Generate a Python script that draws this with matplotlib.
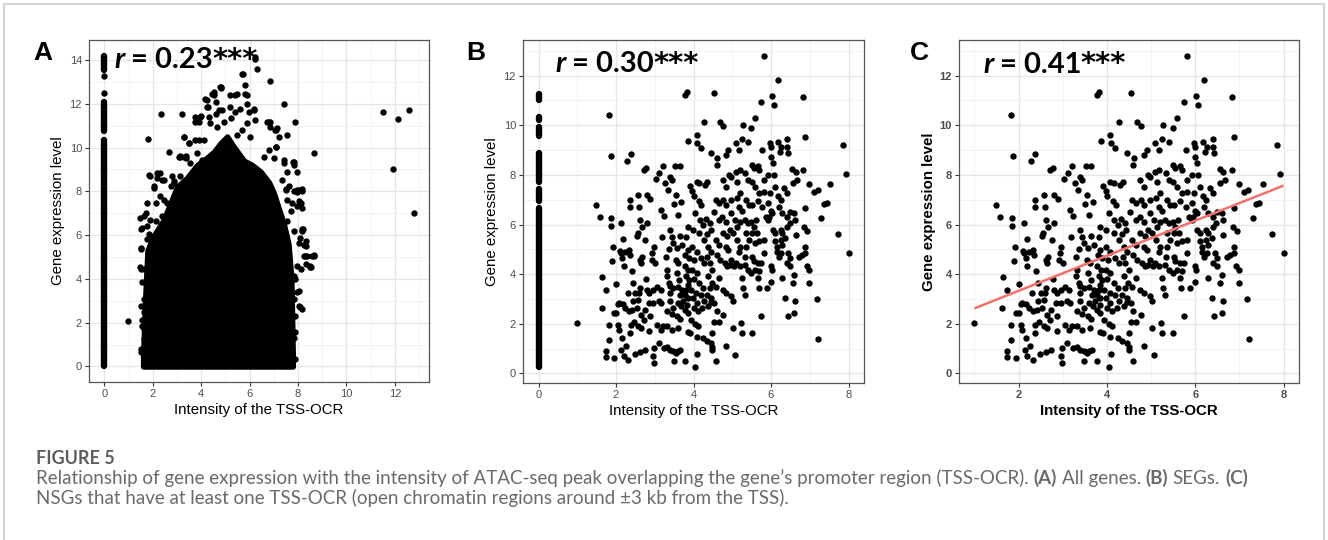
"""
Gene expression vs TSS-OCR intensity, three scatter panels (A, B, C) plus caption.
"""

# Imports - standard
import numpy as np
import matplotlib
matplotlib.use("Agg")
import matplotlib.pyplot as plt
from matplotlib.ticker import MultipleLocator
from matplotlib.patches import Rectangle

# settings - figure
W, H = 1328, 540
AXIS_FONT = "Liberation Sans"
R_FONT = "Lato"
CAPTION_FONT = "Lato"

# Panel A data ===================================================================
# genes without a TSS-OCR sit on x = 0; the column is continuous over these runs
a_zero_runs = [(0.0, 10.35), (10.75, 12.1), (13.55, 14.2)]
a_zero_pts = [12.5, 13.25]

# the dense cloud of genes with a TSS-OCR: upper edge of the solid black area
a_cloud_x = [1.6, 1.68, 1.78, 2.0, 2.45, 3.0, 3.4, 3.83, 4.2, 4.52, 4.8,
             5.07, 5.3, 5.76, 6.1, 6.45, 6.8, 7.0, 7.41, 7.6, 7.72, 7.78]
a_cloud_top = [0.5, 3.0, 5.3, 5.9, 6.7, 8.2, 8.6, 9.2, 9.5, 9.8, 10.2,
               10.5, 10.1, 9.4, 9.2, 8.9, 8.4, 7.9, 6.5, 5.6, 4.0, 0.4]

# points scattered around the cloud
a_points = [
    (0.98, 2.06), (1.46, 6.79), (1.55, 6.32), (1.49, 5.38), (1.46, 4.52),
    (1.55, 2.13), (1.6, 0.64), (1.65, 0.41), (1.79, 10.4), (1.86, 8.75),
    (2.04, 8.15), (2.17, 8.6), (2.31, 8.83), (1.76, 7.47), (1.73, 7.02),
    (1.83, 6.03), (1.76, 3.54), (1.65, 3.08), (2.34, 11.55), (2.66, 9.78),
    (2.86, 8.45), (3.14, 9.59), (3.38, 9.59), (3.21, 11.55), (3.28, 10.49),
    (3.48, 10.19), (3.76, 11.17), (3.96, 11.4), (3.89, 10.34), (4.17, 12.23),
    (4.27, 11.85), (4.51, 12.53), (4.82, 12.73), (4.62, 11.55), (5.2, 12.38),
    (5.41, 12.38), (5.72, 13.37), (5.82, 12.84), (5.89, 12.38), (6.23, 14.15),
    (6.3, 13.59), (6.16, 11.78), (6.85, 13.06), (6.83, 11.17), (7.06, 10.8),
    (7.4, 12.0), (7.54, 10.57), (7.89, 11.16), (7.1, 10.04), (7.4, 9.43),
    (7.79, 9.36), (7.95, 8.9), (7.51, 8.07), (7.54, 7.62), (7.74, 7.47),
    (7.95, 8.07), (8.16, 8.1), (8.02, 7.54), (8.16, 7.24), (8.2, 6.26),
    (8.09, 5.88), (8.26, 5.53), (8.3, 5.05), (8.34, 4.67), (8.53, 4.55),
    (8.64, 5.08), (8.67, 9.74), (8.02, 3.46), (8.09, 2.71), (7.82, 1.3),
    (7.89, 0.36), (7.29, 0.36), (7.57, 2.21), (7.54, 1.8), (7.82, 4.14),
    (7.82, 3.08), (1.9, 8.68), (2.18, 8.84), (2.38, 8.53), (1.62, 6.86),
    (1.49, 6.26), (2.11, 7.47), (2.45, 7.62), (2.87, 8.38), (1.49, 5.43),
    (1.49, 4.44), (1.62, 2.47), (1.62, 1.72), (1.49, 0.66), (3.07, 9.57),
    (3.28, 9.57), (3.49, 10.19), (3.97, 11.43), (4.25, 12.15), (4.52, 12.38),
    (4.8, 12.76), (4.86, 11.7), (5.2, 11.85), (5.48, 12.46), (5.82, 12.46),
    (5.69, 13.37), (6.24, 14.04), (6.79, 11.18), (7.07, 10.8), (7.82, 9.34),
    (7.48, 8.1), (7.96, 7.95), (8.17, 8.02), (8.17, 6.26), (8.31, 5.73),
    (8.65, 5.05), (8.51, 4.59), (8.38, 5.05), (8.1, 4.44), (7.96, 3.38),
    (8.17, 2.62), (7.89, 1.57), (7.41, 0.8), (6.99, 0.36),
    (4.24, 11.85), (4.45, 12.46), (4.79, 12.76), (4.59, 12.08), (4.72, 11.7),
    (4.31, 11.4), (3.76, 11.4), (3.9, 11.17), (4.38, 11.1), (4.65, 10.95),
    (4.93, 11.17), (5.21, 11.33), (5.41, 11.63), (5.9, 12.0), (5.62, 11.78),
    (5.96, 11.63), (6.17, 11.7), (6.24, 11.25), (5.9, 11.1), (5.69, 10.79),
    (5.48, 10.57), (6.03, 10.49), (6.72, 11.17), (6.86, 10.95), (7.14, 10.87),
    (7.2, 10.49), (7.07, 10.04), (6.79, 9.89), (6.58, 9.58), (7.0, 9.51),
    (7.41, 9.28), (7.82, 9.21), (7.55, 8.9), (7.34, 8.53), (7.62, 8.23),
    (7.82, 8.0), (8.03, 8.07), (8.1, 7.47), (7.96, 7.32), (7.69, 7.09),
    (7.55, 6.64), (7.82, 6.18), (8.17, 6.18), (8.03, 5.65), (8.31, 5.5),
    (8.24, 5.05), (8.58, 5.05), (8.51, 4.52), (7.96, 4.6), (7.89, 3.99),
    (8.03, 2.78), (7.89, 2.32), (7.55, 1.87), (7.69, 1.27), (7.14, 0.51),
    (3.28, 10.49), (3.76, 10.34), (4.1, 10.34), (3.14, 9.58), (3.35, 9.51),
    (3.83, 9.73), (4.04, 9.43), (3.55, 9.28), (2.8, 8.68), (3.14, 8.68),
    (2.45, 8.53), (2.04, 8.23), (2.73, 8.23), (2.31, 7.77), (2.59, 7.47),
    (1.9, 6.71), (1.76, 6.41), (2.11, 6.64), (2.38, 6.86), (2.73, 7.09),
    (1.76, 5.8), (1.62, 4.44), (1.56, 3.84), (1.49, 2.78), (1.56, 1.87),
    (1.62, 1.27), (1.49, 0.81), (1.76, 0.36),
    (11.5, 11.64), (12.12, 11.31), (12.6, 11.7), (11.94, 9.01), (12.77, 7.02),
]

# Panels B / C data ==============================================================
# genes on x = 0 in panel B
b_zero_runs = [(0.24, 6.66), (6.95, 7.45), (7.7, 8.9), (9.55, 9.95),
               (10.2, 10.35), (11.0, 11.25)]

# genes with a TSS-OCR (same cloud in B and C)
ocr_points = [
    (1.0, 2.05), (1.48, 6.8), (1.58, 6.32), (1.65, 3.87), (1.73, 3.38),
    (1.63, 2.64), (1.74, 0.91), (1.74, 0.66), (1.82, 10.4), (1.88, 8.75),
    (1.86, 6.25), (1.86, 5.96), (1.82, 1.93), (1.82, 1.33), (1.92, 5.11),
    (1.89, 4.51), (2.0, 3.62), (1.95, 2.43), (2.0, 2.43), (1.94, 0.62),
    (2.13, 6.08), (2.18, 5.42), (2.1, 4.95), (2.13, 4.85), (2.16, 4.67),
    (2.2, 4.34), (2.23, 4.89), (2.08, 2.83), (2.17, 2.79), (2.05, 1.96),
    (2.08, 1.76), (2.16, 1.42), (2.14, 0.95), (2.2, 0.71), (2.29, 8.56),
    (2.38, 8.86), (2.36, 6.99), (2.36, 6.72), (2.33, 4.98), (2.35, 4.78),
    (2.4, 4.13), (2.31, 3.23), (2.26, 1.09), (2.32, 0.55), (2.36, 1.62),
    (2.38, 1.96), (2.48, 0.79), (2.44, 2.9), (2.5, 3.23), (2.57, 7.19),
    (2.59, 6.7), (2.56, 5.65), (2.53, 5.52), (2.62, 6.19), (2.66, 5.92),
    (2.62, 4.58), (2.65, 4.44), (2.66, 4.71), (2.62, 3.44), (2.6, 3.23),
    (2.57, 2.97), (2.57, 1.89), (2.65, 1.83), (2.63, 0.85), (2.74, 0.95),
    (2.72, 8.2), (2.78, 8.27), (2.81, 7.19), (2.89, 7.02), (2.76, 5.38),
    (2.8, 6.05), (2.78, 3.8), (2.81, 3.37), (2.74, 2.56), (2.86, 3.23),
    (2.87, 2.3), (2.86, 1.69), (2.95, 0.68), (2.99, 0.42), (2.93, 4.85),
    (2.97, 5.11), (2.92, 4.58), (3.01, 4.44), (3.02, 7.83), (3.12, 8.09),
    (3.21, 8.34), (3.17, 6.59), (3.23, 6.35), (3.19, 5.49), (3.06, 3.5),
    (3.15, 3.37), (3.1, 2.9), (3.16, 2.83), (3.06, 1.96), (3.15, 1.76),
    (3.21, 1.89), (3.1, 1.22), (3.23, 1.02), (3.29, 4.71), (3.32, 4.17),
    (3.31, 3.91), (3.27, 7.69), (3.34, 7.4), (3.39, 7.93), (3.44, 7.8),
    (3.4, 5.78), (3.44, 5.49), (3.48, 5.25), (3.36, 5.03), (3.36, 3.66),
    (3.4, 3.53), (3.48, 3.44), (3.39, 3.23), (3.4, 2.9), (3.48, 2.63),
    (3.32, 2.5), (3.44, 2.4), (3.32, 1.89), (3.44, 1.76), (3.39, 0.95),
    (3.48, 0.89), (3.49, 0.48), (3.32, 1.06), (3.53, 8.36), (3.64, 8.34),
    (3.5, 6.84), (3.55, 7.19), (3.59, 6.4), (3.64, 5.52), (3.7, 5.18),
    (3.57, 5.05), (3.61, 4.44), (3.55, 4.58), (3.57, 4.04), (3.63, 3.77),
    (3.59, 3.5), (3.7, 3.37), (3.66, 3.17), (3.59, 2.83), (3.69, 2.7),
    (3.57, 2.3), (3.64, 2.19), (3.61, 1.83), (3.59, 0.89), (3.66, 0.95),
    (3.68, 6.9), (3.78, 0.48), (3.78, 11.22), (3.83, 11.36), (3.87, 9.36),
    (3.85, 5.92), (3.81, 5.49), (3.85, 4.98), (3.79, 4.78), (3.89, 4.64),
    (3.77, 4.31), (3.87, 4.17), (3.81, 3.91), (3.89, 3.77), (3.85, 3.57),
    (3.81, 3.37), (3.78, 3.17), (3.85, 3.03), (3.74, 2.9), (3.84, 2.77),
    (3.78, 2.56), (3.85, 2.43), (3.85, 1.65), (3.91, 1.62), (3.9, 7.57),
    (3.97, 7.37), (4.0, 7.13), (4.08, 7.73), (4.15, 7.66), (4.04, 6.48),
    (3.99, 5.78), (4.08, 9.62), (4.09, 9.3), (4.19, 9.07), (4.04, 0.24),
    (3.97, 5.11), (4.08, 4.91), (4.02, 4.58), (3.97, 4.15), (4.08, 4.04),
    (4.0, 3.8), (3.94, 3.37), (4.06, 3.23), (3.98, 3.03), (4.08, 2.83),
    (4.0, 2.63), (4.12, 2.5), (3.93, 2.16), (4.04, 2.0), (4.08, 1.46),
    (4.09, 0.78), (4.14, 6.93), (4.2, 6.78), (4.17, 6.19), (4.24, 5.99),
    (4.15, 5.65), (4.27, 5.38), (4.19, 4.64), (4.27, 4.44), (4.15, 3.64),
    (4.24, 3.44), (4.19, 3.17), (4.27, 2.9), (4.23, 2.63), (4.12, 1.89),
    (4.24, 1.42), (4.34, 1.29), (4.27, 10.15), (4.3, 7.6), (4.36, 7.73),
    (4.32, 6.21), (4.42, 6.08), (4.34, 5.6), (4.44, 5.79), (4.38, 5.11),
    (4.45, 4.91), (4.36, 4.71), (4.42, 4.44), (4.49, 4.17), (4.38, 3.91),
    (4.47, 3.64), (4.42, 3.44), (4.34, 3.17), (4.45, 3.03), (4.38, 2.7),
    (4.45, 2.86), (4.45, 8.9), (4.49, 1.62), (4.45, 1.22), (4.49, 1.06),
    (4.49, 0.95), (4.54, 11.29), (4.58, 0.48), (4.6, 8.4), (4.61, 8.7),
    (4.57, 6.99), (4.65, 6.86), (4.53, 6.52), (4.65, 6.19), (4.57, 5.38),
    (4.66, 5.18), (4.6, 4.78), (4.68, 4.58), (4.65, 3.84), (4.57, 3.5),
    (4.54, 2.83), (4.6, 2.5), (4.54, 2.09), (4.65, 2.09), (4.69, 10.15),
    (4.77, 9.97), (4.76, 7.8), (4.83, 7.53), (4.77, 6.99), (4.83, 6.79),
    (4.74, 6.32), (4.83, 6.12), (4.76, 5.65), (4.87, 5.52), (4.83, 5.11),
    (4.9, 4.98), (4.8, 4.44), (4.87, 4.31), (4.76, 3.37), (4.85, 3.23),
    (4.77, 2.36), (4.83, 1.09), (4.83, 8.81), (4.9, 9.0), (4.92, 8.0),
    (4.97, 7.93), (4.97, 6.99), (4.98, 6.46), (5.06, 6.19), (4.94, 5.78),
    (5.02, 5.65), (4.98, 4.58), (4.94, 4.38), (5.04, 4.31), (4.97, 3.1),
    (5.02, 2.9), (5.02, 1.83), (5.06, 0.75), (5.1, 9.28), (5.18, 9.0),
    (5.1, 8.13), (5.19, 8.2), (5.13, 7.73), (5.12, 7.06), (5.21, 7.26),
    (5.17, 6.72), (5.24, 6.56), (5.21, 6.12), (5.13, 5.92), (5.12, 5.38),
    (5.21, 5.11), (5.17, 4.91), (5.1, 4.44), (5.19, 4.31), (5.24, 3.84),
    (5.27, 3.44), (5.24, 9.44), (5.23, 2.03), (5.24, 1.62), (5.27, 10.0),
    (5.32, 3.17), (5.34, 8.07), (5.4, 7.8), (5.36, 6.99), (5.43, 6.79),
    (5.32, 6.19), (5.4, 6.05), (5.36, 5.65), (5.43, 5.38), (5.36, 5.11),
    (5.34, 4.71), (5.32, 4.38), (5.4, 4.17), (5.4, 9.34), (5.49, 9.88),
    (5.58, 10.28), (5.5, 1.62), (5.5, 8.4), (5.55, 8.27), (5.5, 7.73),
    (5.58, 7.53), (5.52, 6.79), (5.49, 6.12), (5.55, 5.92), (5.51, 5.65),
    (5.58, 5.25), (5.51, 4.71), (5.55, 4.51), (5.58, 4.17), (5.49, 4.04),
    (5.62, 6.19), (5.66, 8.34), (5.7, 8.2), (5.7, 7.26), (5.66, 6.93),
    (5.64, 5.65), (5.7, 5.32), (5.66, 4.44), (5.7, 4.11), (5.66, 3.84),
    (5.68, 3.44), (5.75, 2.3), (5.75, 10.93), (5.81, 12.81), (5.78, 9.0),
    (5.82, 7.8), (5.82, 7.33), (5.78, 6.72), (5.86, 6.32), (5.81, 5.38),
    (5.82, 4.85), (5.75, 4.44), (5.89, 3.44), (5.93, 8.0), (5.97, 7.26),
    (5.93, 6.86), (6.0, 6.56), (5.95, 6.32), (6.03, 6.46), (5.93, 6.19),
    (5.97, 9.28), (6.0, 9.14), (6.02, 11.18), (6.07, 10.82), (6.0, 8.74),
    (6.04, 8.47), (6.07, 8.0), (6.11, 7.53), (6.05, 5.78), (6.11, 5.65),
    (6.0, 4.31), (6.02, 4.15), (6.0, 3.7), (6.1, 5.32), (6.15, 5.11),
    (6.15, 4.91), (6.2, 4.71), (6.19, 11.83), (6.17, 9.34), (6.23, 8.94),
    (6.26, 9.14), (6.4, 9.44), (6.17, 7.13), (6.25, 6.99), (6.2, 6.72),
    (6.29, 6.46), (6.25, 5.78), (6.29, 5.65), (6.25, 5.38), (6.29, 5.18),
    (6.26, 4.85), (6.28, 3.84), (6.37, 3.03), (6.43, 2.3), (6.41, 9.14),
    (6.43, 8.9), (6.33, 7.46), (6.41, 7.26), (6.49, 6.52), (6.4, 6.32),
    (6.48, 6.08), (6.41, 5.92), (6.37, 5.45), (6.45, 4.85), (6.41, 4.44),
    (6.49, 4.64), (6.5, 4.31), (6.55, 8.23), (6.64, 8.13), (6.56, 7.66),
    (6.67, 7.8), (6.6, 6.46), (6.62, 6.19), (6.56, 3.64), (6.6, 3.97),
    (6.62, 2.9), (6.6, 2.43), (6.64, 5.58), (6.71, 4.71), (6.79, 4.78),
    (6.83, 11.15), (6.88, 9.54), (6.83, 8.2), (6.87, 6.66), (6.85, 5.92),
    (6.88, 5.11), (6.87, 4.85), (6.94, 5.72), (6.93, 4.31), (6.98, 4.17),
    (6.98, 3.64), (6.98, 7.64), (7.1, 7.33), (7.2, 7.4), (7.18, 2.99),
    (7.22, 1.38), (7.3, 6.26), (7.38, 6.83), (7.45, 6.86), (7.53, 7.64),
    (7.73, 5.61), (7.86, 9.21), (7.93, 8.04), (8.0, 4.85), (3.55, 0.82),
    (2.53, 2.63), (2.65, 2.36), (2.42, 2.56), (2.44, 3.64), (2.05, 2.8),
    (2.23, 2.63), (2.33, 2.5), (2.46, 2.09), (2.72, 2.16), (2.84, 2.83),
    (2.95, 3.37), (2.95, 2.83), (2.99, 1.02),
]

# linear fit shown in panel C (end points)
fit_x = [1.0, 8.0]
fit_y = [2.62, 7.57]

# annotations
panel_letters = ["A", "B", "C"]
r_values = ["0.23", "0.30", "0.41"]
r_stars = "***"
x_title = "Intensity of the TSS-OCR"
y_title = "Gene expression level"
caption_title = "FIGURE 5"
caption_line1 = [
    ("Relationship of gene expression with the intensity of ATAC-seq peak "
     "overlapping the gene\u2019s promoter region (TSS-OCR).", "normal"),
    ("(A)", "bold"), ("All genes.", "normal"), ("(B)", "bold"),
    ("SEGs.", "normal"), ("(C)", "bold"),
]
caption_line2 = [("NSGs that have at least one TSS-OCR (open chromatin regions "
                  "around \u00b13 kb from the TSS).", "normal")]


def main():

    fig = plt.figure(figsize=(W / 100, H / 100), dpi=100)
    renderer = fig.canvas.get_renderer()

    # outer frame
    fig.patches.append(Rectangle((4 / W, -0.05), (W - 8) / W, 1.05 - 4 / H,
                                 transform=fig.transFigure, fill=False,
                                 edgecolor="#d4d4d4", linewidth=1.5))

    ax_a = fig.add_axes(px_box(89, 40, 429, 382))
    ax_b = fig.add_axes(px_box(523, 40, 864, 383))
    ax_c = fig.add_axes(px_box(959, 40, 1299, 383))

    a_pts = np.array(a_points)
    ocr = np.array(ocr_points)

    # Panel A ======================================================================
    for y0, y1 in a_zero_runs:
        ax_a.plot([0, 0], [y0, y1], color="black", lw=4.6,
                  solid_capstyle="round", zorder=3)
    ax_a.scatter(np.zeros(len(a_zero_pts)), a_zero_pts, s=21, c="black",
                 linewidths=0, zorder=3)
    ax_a.fill_between(a_cloud_x, 0, a_cloud_top, facecolor="black",
                      edgecolor="black", linewidth=4.0, joinstyle="round",
                      zorder=3)
    ax_a.scatter(a_pts[:, 0], a_pts[:, 1], s=21, c="black", linewidths=0,
                 zorder=3)
    ax_a.set_xlim(gg_limits(0, a_pts[:, 0].max()))
    ax_a.set_ylim(gg_limits(0, max(r[1] for r in a_zero_runs)))

    # Panel B ======================================================================
    for y0, y1 in b_zero_runs:
        ax_b.plot([0, 0], [y0, y1], color="black", lw=4.6,
                  solid_capstyle="round", zorder=3)
    ax_b.scatter(ocr[:, 0], ocr[:, 1], s=21, c="black", linewidths=0, zorder=3)
    ax_b.set_xlim(gg_limits(0, ocr[:, 0].max()))
    ax_b.set_ylim(gg_limits(min(ocr[:, 1].min(), b_zero_runs[0][0]),
                            ocr[:, 1].max()))

    # Panel C ======================================================================
    ax_c.scatter(ocr[:, 0], ocr[:, 1], s=21, c="black", linewidths=0, zorder=3)
    ax_c.plot(fit_x, fit_y, color="#F4706A", lw=1.8, zorder=4,
              solid_capstyle="butt")
    ax_c.set_xlim(gg_limits(ocr[:, 0].min(), ocr[:, 0].max()))
    ax_c.set_ylim(gg_limits(ocr[:, 1].min(), ocr[:, 1].max()))

    # label and adjust plots =======================================================
    style_axes(ax_a, 2, 2, bold=False)
    style_axes(ax_b, 2, 2, bold=False)
    style_axes(ax_c, 2, 2, bold=True)
    ax_c.set_xticks([2, 4, 6, 8])

    # r annotations (pixel position of the text baseline start)
    for value, xy_px in zip(r_values, [(114, 68.5), (555, 72.5), (983, 73)]):
        draw_r_label(fig, renderer, xy_px, value)

    # panel letters
    for letter, x_px in zip(panel_letters, [33, 466, 910]):
        fig.text(x_px / W, 1 - 60 / H, letter, fontsize=19, fontweight="bold",
                 family=AXIS_FONT, va="baseline", ha="left")

    # caption
    fig.text(36 / W, 1 - 464 / H, caption_title, fontsize=13,
             fontweight="bold", family=CAPTION_FONT, color="#5c5c5c",
             va="baseline")
    base = 10.0
    probe = fig.text(0, 0, " ".join(t for t, _ in caption_line1),
                     fontsize=base, family=CAPTION_FONT)
    scale = 1210 / probe.get_window_extent(renderer).width
    probe.remove()
    size = base * scale
    draw_runs(fig, renderer, 36, 484.3, caption_line1, size)
    draw_runs(fig, renderer, 36, 503.7, caption_line2, size)

    fig.savefig("out.png", dpi=100)


def px_box(left, top, right, bottom):
    return [left / W, 1 - bottom / H, (right - left) / W, (bottom - top) / H]


def gg_limits(lo, hi):
    pad = 0.05 * (hi - lo)
    return lo - pad, hi + pad


def style_axes(ax, x_step, y_step, bold=False):
    weight = "bold" if bold else "normal"
    ax.set_facecolor("white")
    ax.set_axisbelow(True)
    ax.xaxis.set_major_locator(MultipleLocator(x_step))
    ax.yaxis.set_major_locator(MultipleLocator(y_step))
    ax.xaxis.set_minor_locator(MultipleLocator(x_step / 2))
    ax.yaxis.set_minor_locator(MultipleLocator(y_step / 2))
    ax.grid(which="major", color="#e6e6e6", linewidth=1.0)
    ax.grid(which="minor", color="#f1f1f1", linewidth=0.6)
    for spine in ax.spines.values():
        spine.set_color("#555555")
        spine.set_linewidth(0.9)
    ax.tick_params(which="major", direction="out", length=3, width=0.8,
                   color="#333333", pad=2, labelsize=8, labelcolor="#4d4d4d")
    ax.tick_params(which="minor", length=0)
    for lab in ax.get_xticklabels() + ax.get_yticklabels():
        lab.set_family(AXIS_FONT)
        lab.set_fontweight(weight)
    ax.set_xlabel(x_title, fontsize=10.8, family=AXIS_FONT, fontweight=weight,
                  labelpad=3)
    ax.set_ylabel(y_title, fontsize=10.8, family=AXIS_FONT, fontweight=weight,
                  labelpad=3)


def draw_r_label(fig, renderer, xy_px, value):
    size = 21
    x_px, y_px = xy_px
    gap = text_width(fig, renderer, "0 0", size, "bold", R_FONT) - \
        text_width(fig, renderer, "00", size, "bold", R_FONT)
    r = fig.text(x_px / W, 1 - y_px / H, "r", fontsize=size, fontweight="bold",
                 fontstyle="italic", family=R_FONT, va="baseline", zorder=5)
    x_px += r.get_window_extent(renderer).width + gap
    t = fig.text(x_px / W, 1 - y_px / H, "= " + value, fontsize=size,
                 fontweight="bold", family=R_FONT, va="baseline", zorder=5)
    x_px += t.get_window_extent(renderer).width - 1
    # asterisks: larger glyphs than Lato's, sitting in the upper half of the line
    fig.text(x_px / W, 1 - (y_px - 1) / H, r_stars, fontsize=size,
             fontweight="bold", family="DejaVu Sans", va="baseline", zorder=5)


def text_width(fig, renderer, s, size, weight, family):
    t = fig.text(0, 0, s, fontsize=size, fontweight=weight, family=family)
    w = t.get_window_extent(renderer).width
    t.remove()
    return w


def draw_runs(fig, renderer, x_px, y_px, runs, size):
    space = text_width(fig, renderer, "a a", size, "normal", CAPTION_FONT) - \
        text_width(fig, renderer, "aa", size, "normal", CAPTION_FONT)
    for text, weight in runs:
        t = fig.text(x_px / W, 1 - y_px / H, text, fontsize=size,
                     fontweight=weight, family=CAPTION_FONT, color="#6a6a6a",
                     va="baseline")
        x_px += t.get_window_extent(renderer).width + space


if __name__ == "__main__":
    main()
